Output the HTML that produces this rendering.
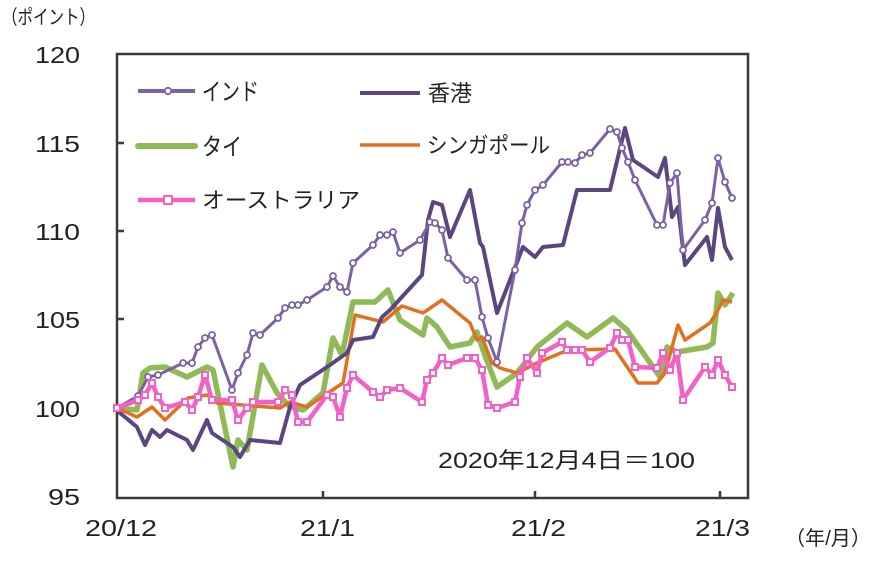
<!DOCTYPE html>
<html><head><meta charset="utf-8"><style>
body{margin:0;background:#fff}
text{font-family:"Liberation Sans","Noto Sans CJK JP",sans-serif;fill:#222}
</style></head><body>
<svg width="873" height="556" xmlns="http://www.w3.org/2000/svg">
<defs>
<marker id="c" markerWidth="8" markerHeight="8" refX="4" refY="4" markerUnits="userSpaceOnUse"><circle cx="4" cy="4" r="3" fill="#fff" stroke="#7b62a3" stroke-width="1.8"/></marker>
<marker id="s" markerWidth="8" markerHeight="8" refX="4" refY="4" markerUnits="userSpaceOnUse"><rect x="1" y="1" width="6" height="6" fill="#fff" stroke="#f45fc8" stroke-width="2"/></marker>
</defs>
<rect x="0" y="0" width="873" height="556" fill="#fff"/>
<rect x="117" y="54" width="631" height="444" fill="none" stroke="#3a3a3a" stroke-width="2.5"/>
<g stroke="#3a3a3a" stroke-width="2.5">
<line x1="117" y1="143" x2="124" y2="143"/><line x1="117" y1="231" x2="124" y2="231"/><line x1="117" y1="319" x2="124" y2="319"/><line x1="117" y1="408" x2="124" y2="408"/>
<line x1="323" y1="498" x2="323" y2="491"/><line x1="535" y1="498" x2="535" y2="491"/><line x1="720" y1="498" x2="720" y2="491"/>
</g>
<g font-size="23">
<text x="35" y="63" textLength="45" lengthAdjust="spacingAndGlyphs">120</text><text x="35" y="152" textLength="45" lengthAdjust="spacingAndGlyphs">115</text><text x="35" y="240" textLength="45" lengthAdjust="spacingAndGlyphs">110</text><text x="35" y="328" textLength="45" lengthAdjust="spacingAndGlyphs">105</text><text x="35" y="417" textLength="45" lengthAdjust="spacingAndGlyphs">100</text><text x="48" y="505" textLength="32" lengthAdjust="spacingAndGlyphs">95</text>
</g>
<g font-size="23">
<text x="85" y="536" textLength="72" lengthAdjust="spacingAndGlyphs">20/12</text><text x="300" y="536" textLength="55" lengthAdjust="spacingAndGlyphs">21/1</text><text x="511" y="536" textLength="55" lengthAdjust="spacingAndGlyphs">21/2</text><text x="695" y="536" textLength="55" lengthAdjust="spacingAndGlyphs">21/3</text>
</g>
<text x="2" y="24" font-size="20" textLength="93" lengthAdjust="spacingAndGlyphs">（ポイント）</text>
<text x="785" y="545" font-size="20" textLength="86" lengthAdjust="spacingAndGlyphs">（年/月）</text>
<text x="438" y="468" font-size="22" textLength="257" lengthAdjust="spacingAndGlyphs">2020年12月4日＝100</text>

<polyline fill="none" stroke="#8fba55" stroke-width="5.5" stroke-linejoin="round" points="117,408 137,410 143,373 150,368 165,367 187,377 207,367 213,370 233,467 238,440 247,450 262,365 277,393 290,407 303,410 323,393 333,338 342,355 353,302 375,302 388,290 400,320 423,335 427,318 437,327 450,347 470,343 477,332 483,350 497,387 517,373 537,347 567,323 587,337 613,318 627,330 660,377 667,347 677,352 707,347 713,343 718,293 725,305 733,293"/>
<polyline fill="none" stroke="#e2701e" stroke-width="3.5" stroke-linejoin="round" points="117,408 137,417 152,407 165,420 188,398 207,395 217,403 280,408 290,402 307,407 343,383 355,315 383,322 402,306 423,313 442,300 470,323 477,340 482,337 492,363 500,368 517,373 537,363 568,350 615,349 638,383 657,383 665,373 678,325 685,340 710,323 717,312 723,300 732,302"/>
<polyline fill="none" stroke="#5b4680" stroke-width="4" stroke-linejoin="round" points="117,408 120,413 137,427 145,445 152,430 160,437 167,430 187,440 193,450 207,420 212,433 233,447 240,457 250,440 280,443 290,407 300,385 327,367 347,353 353,340 373,337 382,317 390,310 422,275 428,220 433,202 442,205 450,237 470,190 480,243 483,247 497,313 523,247 535,257 543,247 563,245 577,190 610,190 625,128 633,160 658,177 665,158 672,217 678,207 685,265 707,237 712,260 718,208 725,247 732,260"/>
<polyline fill="none" stroke="#7b62a3" stroke-width="3" stroke-linejoin="round" marker-start="url(#c)" marker-mid="url(#c)" marker-end="url(#c)" points="117,408 138,396 148,377 158,375 183,363 192,363 198,347 205,338 212,335 232,390 238,373 247,355 253,333 260,335 278,318 285,308 292,305 298,305 307,300 327,287 333,276 340,287 347,292 353,263 373,245 380,235 387,235 393,232 400,253 420,240 430,222 435,223 442,230 448,258 467,280 475,280 482,317 488,338 497,362 515,270 522,223 527,205 535,190 543,185 562,162 568,162 575,163 582,155 590,153 610,129 617,132 622,148 628,162 635,180 657,225 663,225 670,183 677,173 683,250 705,220 712,203 718,158 725,182 732,198"/>
<polyline fill="none" stroke="#f45fc8" stroke-width="4.5" stroke-linejoin="round" marker-start="url(#s)" marker-mid="url(#s)" marker-end="url(#s)" points="117,408 138,400 145,395 152,383 158,397 165,408 185,402 192,410 198,397 205,375 212,400 232,400 238,420 247,408 253,402 278,402 285,390 292,395 298,422 307,422 327,395 333,397 340,417 347,388 353,375 373,392 380,397 387,390 400,388 422,402 427,380 433,373 442,358 448,365 467,358 475,358 482,370 488,405 497,408 515,402 520,377 527,358 537,373 542,353 562,342 567,350 575,350 582,350 590,362 610,348 617,333 622,340 628,340 635,367 657,368 663,353 670,370 677,353 683,400 705,367 712,375 718,360 725,375 732,387"/>

<line x1="138" y1="91" x2="195" y2="91" stroke="#7b62a3" stroke-width="4"/>
<circle cx="168" cy="91" r="3.2" fill="#fff" stroke="#7b62a3" stroke-width="1.8"/>
<text x="202" y="100" font-size="24" textLength="57" lengthAdjust="spacingAndGlyphs">インド</text>
<line x1="360" y1="93" x2="420" y2="93" stroke="#5b4680" stroke-width="4"/>
<text x="428" y="101" font-size="22">香港</text>
<line x1="138" y1="146" x2="195" y2="146" stroke="#8fba55" stroke-width="6" stroke-linecap="round"/>
<text x="202" y="155" font-size="24" textLength="40" lengthAdjust="spacingAndGlyphs">タイ</text>
<line x1="360" y1="145" x2="420" y2="145" stroke="#e2701e" stroke-width="3.5"/>
<text x="427" y="153" font-size="22" textLength="123" lengthAdjust="spacingAndGlyphs">シンガポール</text>
<line x1="138" y1="200" x2="195" y2="200" stroke="#f45fc8" stroke-width="4.5"/>
<rect x="164" y="196" width="8" height="8" fill="#fff" stroke="#f45fc8" stroke-width="2"/>
<text x="202" y="208" font-size="22" textLength="158" lengthAdjust="spacingAndGlyphs">オーストラリア</text>
</svg>
</body></html>
